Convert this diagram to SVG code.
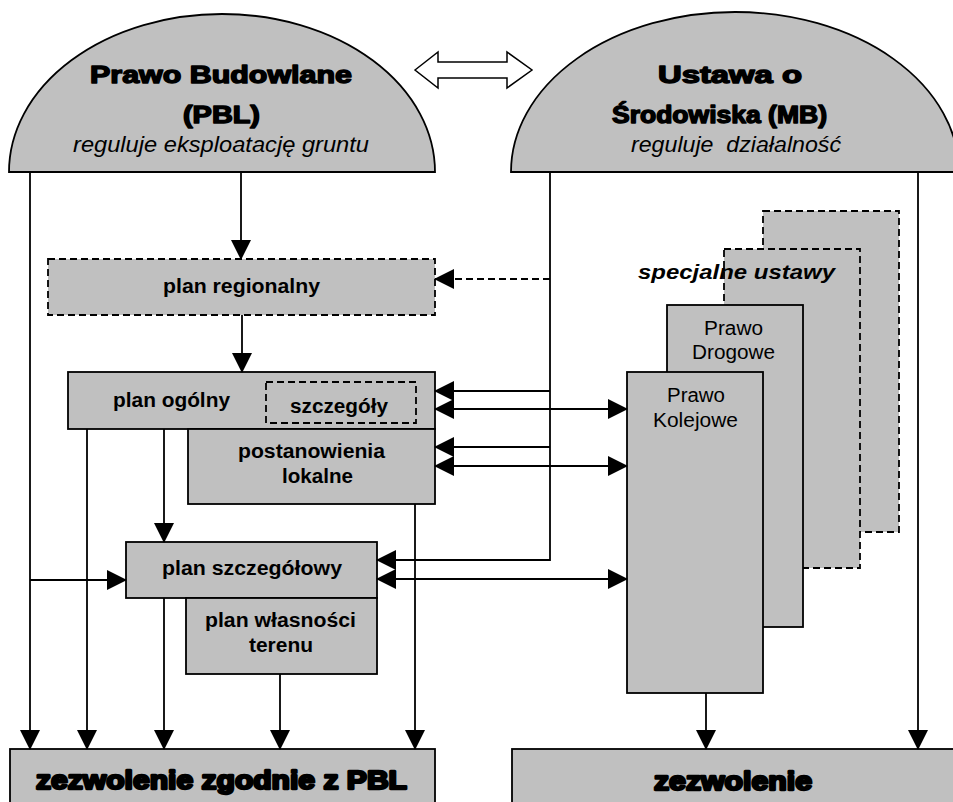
<svg xmlns="http://www.w3.org/2000/svg" width="953" height="802" viewBox="0 0 953 802">
<defs>
<marker id="ah" markerUnits="userSpaceOnUse" markerWidth="20" markerHeight="20" refX="19" refY="10" orient="auto-start-reverse">
<path d="M0,0 L20,10 L0,20 Z" fill="#000"/>
</marker>
<style>
.shape{fill:#c0c0c0;stroke:#000;stroke-width:1.8}
.dash{fill:#c0c0c0;stroke:#000;stroke-width:1.8;stroke-dasharray:7 4}
.dashnf{fill:none;stroke:#000;stroke-width:1.8;stroke-dasharray:7 4}
.ln{fill:none;stroke:#000;stroke-width:1.8}
.ar{marker-end:url(#ah)}
.da{marker-start:url(#ah);marker-end:url(#ah)}
.b{font-family:"Liberation Sans",Arial,sans-serif;font-weight:bold;font-size:20px;fill:#000;text-anchor:start}
.n{font-family:"Liberation Sans",Arial,sans-serif;font-size:20px;fill:#000}
.it{font-family:"Liberation Sans",Arial,sans-serif;font-style:italic;font-size:22px;fill:#000}
.hv{font-family:"Liberation Sans",Arial,sans-serif;font-weight:bold;font-size:23px;fill:#000;stroke:#000;stroke-width:1.4;stroke-linejoin:round}
.hv2{font-family:"Liberation Sans",Arial,sans-serif;font-weight:bold;font-size:25px;fill:#000;stroke:#000;stroke-width:2.4;stroke-linejoin:round}
</style>
</defs>

<g id="dome-pbl">
<path class="shape" d="M9,172 A213,158 0 0 1 435,172 Z"/>
<text class="hv" x="90" y="83" textLength="262" lengthAdjust="spacingAndGlyphs">Prawo Budowlane</text>
<text class="hv" x="183" y="123" textLength="77" lengthAdjust="spacingAndGlyphs">(PBL)</text>
<text class="it" x="73" y="152" textLength="296" lengthAdjust="spacingAndGlyphs">reguluje eksploatację gruntu</text>
</g>

<g id="dome-mb">
<path class="shape" d="M511,172 A224,160 0 0 1 959,172 Z"/>
<text class="hv" x="658" y="83" textLength="144" lengthAdjust="spacingAndGlyphs">Ustawa o</text>
<text class="hv" x="612" y="123" textLength="215" lengthAdjust="spacingAndGlyphs">Środowiska (MB)</text>
<text class="it" x="631" y="152" textLength="210" lengthAdjust="spacingAndGlyphs" xml:space="preserve">reguluje  działalność</text>
</g>

<g id="double-arrow">
<polygon points="415,70 438,52 438,62 507,62 507,52 532,70 507,88 507,78 438,78 438,88" fill="#fff" stroke="#000" stroke-width="1.5"/>
</g>

<g id="special-laws">
<rect class="dash" x="763" y="211" width="136" height="321"/>
<rect class="dash" x="724" y="249" width="136" height="319"/>
<text class="b" x="638" y="279" font-style="italic" textLength="197" lengthAdjust="spacingAndGlyphs">specjalne ustawy</text>
</g>

<g id="prawo-drogowe">
<rect class="shape" x="667" y="305" width="136" height="322"/>
<text class="n" x="704" y="335" textLength="59" lengthAdjust="spacingAndGlyphs">Prawo</text>
<text class="n" x="692" y="359" textLength="83" lengthAdjust="spacingAndGlyphs">Drogowe</text>
</g>

<g id="prawo-kolejowe">
<rect class="shape" x="627" y="372" width="136" height="321"/>
<text class="n" x="667" y="402" textLength="58" lengthAdjust="spacingAndGlyphs">Prawo</text>
<text class="n" x="653" y="427" textLength="85" lengthAdjust="spacingAndGlyphs">Kolejowe</text>
</g>

<g id="plan-regionalny">
<rect class="dash" x="48" y="259" width="387" height="56"/>
<text class="b" x="163" y="293" textLength="157" lengthAdjust="spacingAndGlyphs">plan regionalny</text>
</g>

<g id="plan-ogolny">
<rect class="shape" x="68" y="372" width="367" height="57"/>
<text class="b" x="113" y="407" textLength="117" lengthAdjust="spacingAndGlyphs">plan ogólny</text>
<rect class="dashnf" x="266" y="382" width="150" height="41"/>
<text class="b" x="290" y="413" textLength="98" lengthAdjust="spacingAndGlyphs">szczegóły</text>
</g>

<g id="postanowienia">
<rect class="shape" x="188" y="429" width="247" height="75"/>
<text class="b" x="238" y="458" textLength="147" lengthAdjust="spacingAndGlyphs">postanowienia</text>
<text class="b" x="282" y="483" textLength="71" lengthAdjust="spacingAndGlyphs">lokalne</text>
</g>

<g id="plan-szczegolowy">
<rect class="shape" x="126" y="542" width="251" height="56"/>
<text class="b" x="162" y="575" textLength="180" lengthAdjust="spacingAndGlyphs">plan szczegółowy</text>
</g>

<g id="plan-wlasnosci">
<rect class="shape" x="186" y="598" width="191" height="76"/>
<text class="b" x="205" y="627" textLength="151" lengthAdjust="spacingAndGlyphs">plan własności</text>
<text class="b" x="249" y="652" textLength="64" lengthAdjust="spacingAndGlyphs">terenu</text>
</g>

<g id="zezwolenie-pbl">
<rect class="shape" x="10" y="749" width="425" height="60"/>
<text class="hv2" x="36" y="789" textLength="371" lengthAdjust="spacingAndGlyphs">zezwolenie zgodnie z PBL</text>
</g>

<g id="zezwolenie">
<rect class="shape" x="512" y="749" width="450" height="60"/>
<text class="hv2" x="654" y="790" textLength="158" lengthAdjust="spacingAndGlyphs">zezwolenie</text>
</g>

<g id="connectors">
<path class="ln ar" d="M30,172 V749"/>
<path class="ln ar" d="M30,580 H126"/>
<path class="ln ar" d="M241,172 V259"/>
<path class="ln ar" d="M242,315 V372"/>
<path class="ln ar" d="M87,429 V749"/>
<path class="ln ar" d="M164,429 V542"/>
<path class="ln ar" d="M415,504 V749"/>
<path class="ln ar" d="M164,598 V749"/>
<path class="ln ar" d="M280,674 V749"/>
<path class="ln ar" d="M550,172 V560 H377"/>
<path class="ln ar" d="M550,279 H435" stroke-dasharray="7 4"/>
<path class="ln ar" d="M550,391 H435"/>
<path class="ln ar" d="M550,447 H435"/>
<path class="ln da" d="M435,409 H627"/>
<path class="ln da" d="M435,466 H627"/>
<path class="ln da" d="M377,579 H627"/>
<path class="ln ar" d="M918,172 V749"/>
<path class="ln ar" d="M706,693 V749"/>
</g>
</svg>
